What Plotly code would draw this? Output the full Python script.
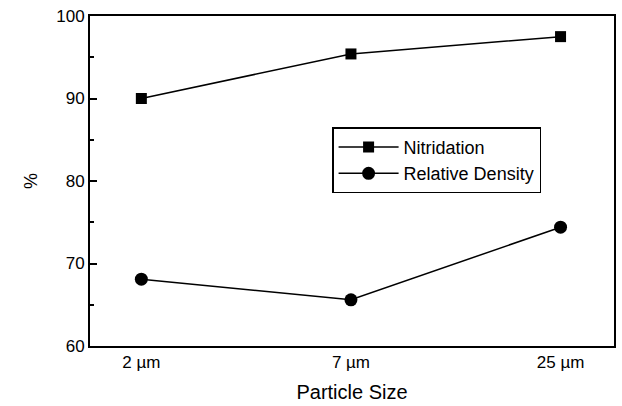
import plotly.graph_objects as go

# Particle size categories and measured percentages
particle_sizes = ["2 \u00b5m", "7 \u00b5m", "25 \u00b5m"]
nitridation = [90.0, 95.4, 97.5]
relative_density = [68.1, 65.6, 74.4]

y_ticks = [60, 70, 80, 90, 100]

x_pos = list(range(len(particle_sizes)))
FONT = "Liberation Sans, Arial, sans-serif"

fig = go.Figure()
fig.add_trace(go.Scatter(
    x=x_pos, y=nitridation, name="Nitridation", mode="lines+markers",
    line=dict(color="black", width=1.5),
    marker=dict(symbol="square", size=11, color="black"),
))
fig.add_trace(go.Scatter(
    x=x_pos, y=relative_density, name="Relative Density", mode="lines+markers",
    line=dict(color="black", width=1.5),
    marker=dict(symbol="circle", size=13, color="black"),
))

fig.update_layout(
    width=622, height=406,
    margin=dict(l=90, r=6, t=16, b=58),
    paper_bgcolor="white", plot_bgcolor="white",
    font=dict(family=FONT, color="black", size=17),
    showlegend=True,
    legend=dict(
        x=0.462, y=0.663, xanchor="left", yanchor="top",
        bordercolor="black", borderwidth=1.5, bgcolor="white",
        font=dict(size=18), tracegroupgap=0, itemwidth=60,
    ),
    xaxis=dict(
        range=[-0.245, 2.255], tickmode="array", tickvals=x_pos,
        ticktext=particle_sizes, showgrid=False, zeroline=False,
        showline=True, linecolor="black", linewidth=2, mirror=True,
        ticks="", title=dict(text="Particle Size", font=dict(size=20), standoff=14),
    ),
    yaxis=dict(
        range=[60, 100], tickvals=y_ticks, showgrid=False, zeroline=False,
        showline=True, linecolor="black", linewidth=2, mirror=True,
        ticks="inside", ticklen=7, tickwidth=1.5, tickcolor="black",
        minor=dict(dtick=5, ticks="inside", ticklen=4, tickwidth=1.5, tickcolor="black"),
        title=dict(text="%", font=dict(size=18), standoff=14),
    ),
)

fig.write_html("out.html")
